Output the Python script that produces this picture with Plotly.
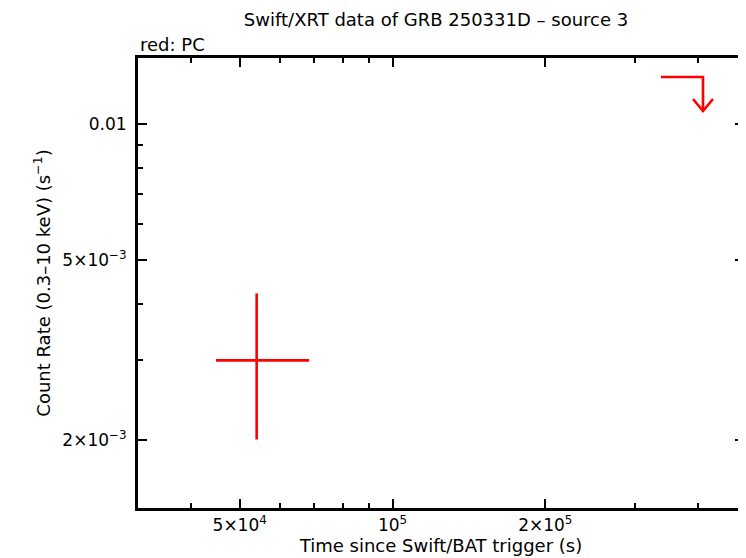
import plotly.graph_objects as go

# Detection (PC mode)
det_t = [54000.0]
det_t_lo = [44900.0]
det_t_hi = [68500.0]
det_rate = [3.0e-3]
det_rate_lo = [2.005e-3]
det_rate_hi = [4.22e-3]

# Upper limit (PC mode)
ul_t_lo = [338000.0]
ul_t_hi = [409000.0]
ul_rate = [0.01271]

x_major = [5e4, 1e5, 2e5]
x_major_text = ["5×10<sup>4</sup>", "10<sup>5</sup>", "2×10<sup>5</sup>"]
x_minor = [4e4, 6e4, 7e4, 8e4, 9e4, 3e5, 4e5]
y_major = [0.01, 5e-3, 2e-3]
y_major_text = ["0.01", "5×10<sup>−3</sup>", "2×10<sup>−3</sup>"]
y_minor = [3e-3, 4e-3, 6e-3, 7e-3, 8e-3, 9e-3]

RED = "#ff0000"
LW = 2.6
FONT = "DejaVu Sans"

fig = go.Figure()

# error bars as crosses
for t, tl, th, r, rl, rh in zip(det_t, det_t_lo, det_t_hi, det_rate, det_rate_lo, det_rate_hi):
    fig.add_trace(go.Scatter(x=[tl, th, None, t, t], y=[r, r, None, rl, rh],
                             mode="lines", line=dict(color=RED, width=LW),
                             showlegend=False, hoverinfo="skip"))

# upper limits: horizontal bar + downward arrow at right end
arrow_drop = 0.841   # arrow length as a factor in rate
wing_dx = 1.0464     # wing half width factor in time
wing_dy = 1.063      # wing height factor in rate
for tl, th, r in zip(ul_t_lo, ul_t_hi, ul_rate):
    tip = r * arrow_drop
    fig.add_trace(go.Scatter(
        x=[tl, th, th, None, th / wing_dx, th, th * wing_dx],
        y=[r, r, tip, None, tip * wing_dy, tip, tip * wing_dy],
        mode="lines", line=dict(color=RED, width=LW),
        showlegend=False, hoverinfo="skip"))

axis_common = dict(
    showline=True, linecolor="black", linewidth=3, mirror="ticks",
    ticks="inside", ticklen=9, tickwidth=2, tickcolor="black",
    showgrid=False, zeroline=False, automargin=False,
    tickfont=dict(family=FONT, size=17, color="black"),
)

fig.update_xaxes(type="log", range=[4.4986, 5.6925],
                 tickmode="array", tickvals=x_major, ticktext=x_major_text,
                 minor=dict(tickmode="array", tickvals=x_minor, ticks="inside",
                            ticklen=5, tickwidth=2, tickcolor="black"),
                 title=dict(text="Time since Swift/BAT trigger (s)",
                            font=dict(family=FONT, size=18, color="black"), standoff=0),
                 **axis_common)
fig.update_yaxes(type="log", range=[-2.8494, -1.8538],
                 tickmode="array", tickvals=y_major, ticktext=y_major_text,
                 ticklabelstandoff=5,
                 minor=dict(tickmode="array", tickvals=y_minor, ticks="inside",
                            ticklen=5, tickwidth=2, tickcolor="black"),
                 title=dict(text="Count Rate (0.3–10 keV) (s<sup>−1</sup>)",
                            font=dict(family=FONT, size=18, color="black"), standoff=8),
                 **axis_common)

fig.update_layout(
    width=738, height=550,
    margin=dict(l=130, r=2, t=50, b=50),
    paper_bgcolor="white", plot_bgcolor="white",
    title=dict(text="Swift/XRT data of GRB 250331D – source 3", x=0.58, xanchor="center",
               y=0.978, yanchor="middle", font=dict(family=FONT, size=18, color="black")),
    annotations=[dict(text="red: PC", xref="paper", yref="paper", x=0, y=1,
                      xanchor="left", yanchor="bottom", yshift=1, showarrow=False,
                      font=dict(family=FONT, size=18, color="black"))],
)

fig.write_html("out.html")
